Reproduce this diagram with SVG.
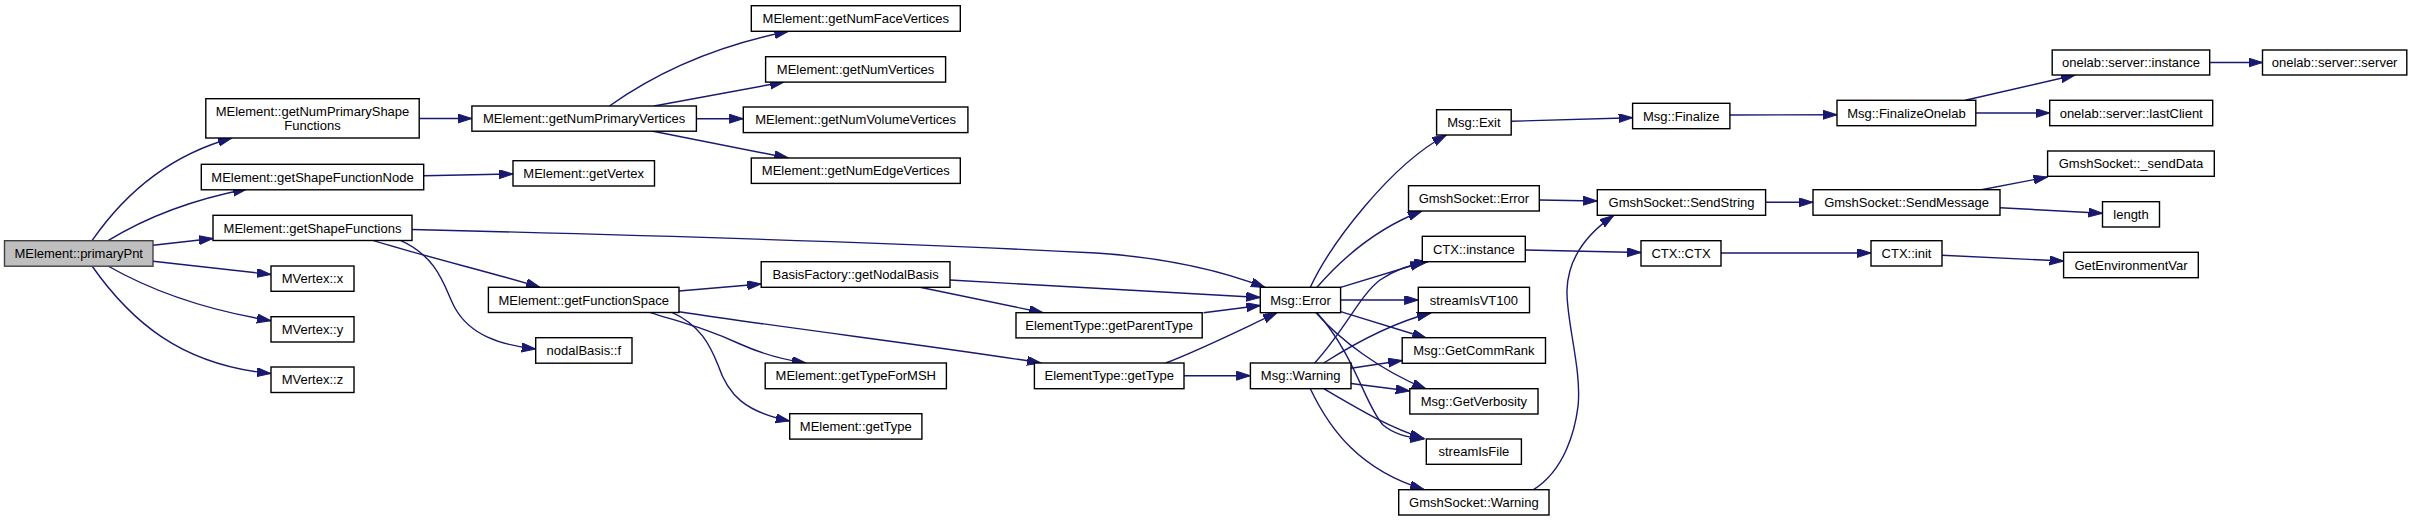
<svg xmlns="http://www.w3.org/2000/svg" width="2412" height="521" viewBox="0 0 2412 521">
<style>
.n rect{fill:#fff;stroke:#000;stroke-width:1.4}
.n.root rect{fill:#bfbfbf;stroke:#404040}
.n text{font-family:"Liberation Sans",Arial,Helvetica,sans-serif;font-size:13px;fill:#000;text-anchor:middle}
.e path{fill:none;stroke:#191970;stroke-width:1.4;marker-end:url(#arr)}
</style>
<defs>
<marker id="arr" markerUnits="userSpaceOnUse" markerWidth="15" markerHeight="10" refX="14" refY="4.5" orient="auto">
<path d="M0,0 L14,4.5 L0,9 z" fill="#191970" stroke="#191970" stroke-width="1"/>
</marker>
</defs>
<rect width="2412" height="521" fill="#fff"/>
<g id="edges" class="e">
<path d="M92,240.7 C125,193 170,155 232,138"/>
<path d="M108,240.7 C145,218 190,200 247,189"/>
<path d="M153,245.3 L213,238.5"/>
<path d="M153,261.3 L271,274.5"/>
<path d="M108,266 C150,290 200,309 271,320.7"/>
<path d="M92,266 C130,320 180,365 271,373.5"/>
<path d="M419.2,118.5 L471.9,118.5"/>
<path d="M423.7,175.7 L513,174"/>
<path d="M412,229.5 C600,234 900,243 1096,253 C1170,258 1225,272 1265,287.5"/>
<path d="M372.8,240.3 C430,258 490,272 540,287.3"/>
<path d="M400.4,240.3 C440,258 445,290 455,308 C470,335 500,345 535.7,349"/>
<path d="M679,291 L761.2,284"/>
<path d="M649.6,312.3 C690,325 710,330 740,344 C760,353 785,360 806,363"/>
<path d="M672,312.3 C700,325 710,345 718,365 C728,395 745,412 789.7,421"/>
<path d="M679,311.7 C800,330 950,348 1041,363"/>
<path d="M950,280 L1260.3,297.5"/>
<path d="M920,287.3 L1043,312.7"/>
<path d="M1203.6,312.7 L1260.3,305.5"/>
<path d="M1165.6,363 C1200,350 1240,330 1277,312.7"/>
<path d="M1184,375.7 L1250.4,375.7"/>
<path d="M1310.3,287.3 C1330,245 1390,165 1446.4,135"/>
<path d="M1317,287.3 C1345,255 1380,227 1421.9,211"/>
<path d="M1340.6,287.3 L1424,262"/>
<path d="M1340.6,300 L1418.3,300"/>
<path d="M1340.6,311.7 L1426.3,338"/>
<path d="M1316,312.7 C1340,340 1380,370 1426,389"/>
<path d="M1317,312.7 C1355,355 1365,405 1383,425 C1395,435 1410,438 1424,439"/>
<path d="M1314.7,363 C1345,330 1360,295 1380,280 C1395,270 1410,264 1428,261.7"/>
<path d="M1323.7,363 C1360,340 1395,322 1431,313"/>
<path d="M1351,368.3 L1402.2,360.5"/>
<path d="M1351,383.5 L1409.8,391"/>
<path d="M1323.7,388.7 C1360,410 1390,428 1424,438.5"/>
<path d="M1310.3,388.7 C1330,430 1360,470 1424,489.5"/>
<path d="M1533.5,489.7 C1565,470 1575,430 1578,406.7 C1582,370 1566,320 1567,290 C1568,260 1585,235 1613.8,215.3"/>
<path d="M1539.3,200 L1597.3,201"/>
<path d="M1525.4,250 L1641,252.5"/>
<path d="M1721,253 L1871,253"/>
<path d="M1942,255.3 L2063.6,261"/>
<path d="M1511.2,121.3 L1632.6,117.7"/>
<path d="M1729.9,115 L1837,114.7"/>
<path d="M1965.3,100.3 L2075,75"/>
<path d="M1975.8,113 L2049.7,113"/>
<path d="M2209.7,62.5 L2262.5,62.5"/>
<path d="M1765.6,202.3 L1812.9,202.3"/>
<path d="M1981.3,189.7 L2047.6,177"/>
<path d="M1999.9,207.7 L2102.5,213.3"/>
<path d="M609.4,106 C660,70 720,45 788.4,31.3"/>
<path d="M654,106 L784,82"/>
<path d="M696.4,118.7 L743.3,118.7"/>
<path d="M651.8,131 L788.4,158"/>
</g>
<g id="primaryPnt" class="n root"><rect x="4.5" y="240.7" width="148.5" height="25.5"/><text x="78.7" y="258">MElement::primaryPnt</text></g>
<g id="getNumPrimaryShapeFunctions" class="n"><rect x="205.8" y="98.7" width="213.4" height="39.3"/><text x="312.5" y="115.5">MElement::getNumPrimaryShape</text><text x="312.5" y="129.5">Functions</text></g>
<g id="getShapeFunctionNode" class="n"><rect x="201.3" y="164.3" width="222.4" height="25.5"/><text x="312.5" y="181.6">MElement::getShapeFunctionNode</text></g>
<g id="getShapeFunctions" class="n"><rect x="213" y="215.3" width="199" height="25.2"/><text x="312.5" y="232.5">MElement::getShapeFunctions</text></g>
<g id="MVertex_x" class="n"><rect x="271" y="266" width="83" height="25.3"/><text x="312.5" y="283.2">MVertex::x</text></g>
<g id="MVertex_y" class="n"><rect x="271" y="316.7" width="83" height="25.3"/><text x="312.5" y="333.9">MVertex::y</text></g>
<g id="MVertex_z" class="n"><rect x="271" y="367" width="83" height="25.5"/><text x="312.5" y="384.3">MVertex::z</text></g>
<g id="getNumPrimaryVertices" class="n"><rect x="471.9" y="106" width="224.5" height="25.2"/><text x="584.1" y="123.2">MElement::getNumPrimaryVertices</text></g>
<g id="getVertex" class="n"><rect x="513" y="160.7" width="141.5" height="25.3"/><text x="583.7" y="177.9">MElement::getVertex</text></g>
<g id="getFunctionSpace" class="n"><rect x="488.4" y="287.3" width="190.6" height="25.2"/><text x="583.7" y="304.5">MElement::getFunctionSpace</text></g>
<g id="nodalBasis_f" class="n"><rect x="535.7" y="337.7" width="96.3" height="25.5"/><text x="583.8" y="355">nodalBasis::f</text></g>
<g id="getNumFaceVertices" class="n"><rect x="751.3" y="5.7" width="209" height="25.6"/><text x="855.8" y="23">MElement::getNumFaceVertices</text></g>
<g id="getNumVertices" class="n"><rect x="765.6" y="56.7" width="180" height="25.4"/><text x="855.6" y="73.9">MElement::getNumVertices</text></g>
<g id="getNumVolumeVertices" class="n"><rect x="743.3" y="107" width="224.6" height="25.6"/><text x="855.6" y="124.3">MElement::getNumVolumeVertices</text></g>
<g id="getNumEdgeVertices" class="n"><rect x="751.3" y="158" width="209" height="25.4"/><text x="855.8" y="175.2">MElement::getNumEdgeVertices</text></g>
<g id="getNodalBasis" class="n"><rect x="761.2" y="261.7" width="188.8" height="25.6"/><text x="855.6" y="279">BasisFactory::getNodalBasis</text></g>
<g id="getTypeForMSH" class="n"><rect x="765.2" y="363" width="181.2" height="25.7"/><text x="855.8" y="380.4">MElement::getTypeForMSH</text></g>
<g id="MElement_getType" class="n"><rect x="789.7" y="413.7" width="132.2" height="25.4"/><text x="855.8" y="430.9">MElement::getType</text></g>
<g id="getParentType" class="n"><rect x="1016" y="312.7" width="186.2" height="25.2"/><text x="1109.1" y="329.9">ElementType::getParentType</text></g>
<g id="ElementType_getType" class="n"><rect x="1034.4" y="363" width="149.6" height="25.7"/><text x="1109.2" y="380.4">ElementType::getType</text></g>
<g id="Msg_Error" class="n"><rect x="1260.3" y="287.3" width="80.3" height="25.4"/><text x="1300.5" y="304.5">Msg::Error</text></g>
<g id="Msg_Warning" class="n"><rect x="1250.4" y="363" width="100.6" height="25.7"/><text x="1300.7" y="380.4">Msg::Warning</text></g>
<g id="Msg_Exit" class="n"><rect x="1436.6" y="109.7" width="74.6" height="25.3"/><text x="1473.9" y="126.9">Msg::Exit</text></g>
<g id="GmshSocket_Error" class="n"><rect x="1408.5" y="185.7" width="130.8" height="25.3"/><text x="1473.9" y="202.9">GmshSocket::Error</text></g>
<g id="CTX_instance" class="n"><rect x="1422.3" y="236.3" width="103" height="25.4"/><text x="1473.8" y="253.5">CTX::instance</text></g>
<g id="streamIsVT100" class="n"><rect x="1418.3" y="287.3" width="111.2" height="25.4"/><text x="1473.9" y="304.5">streamIsVT100</text></g>
<g id="GetCommRank" class="n"><rect x="1402.2" y="337.7" width="143.3" height="25.6"/><text x="1473.9" y="355">Msg::GetCommRank</text></g>
<g id="GetVerbosity" class="n"><rect x="1409.8" y="388.7" width="128.2" height="25.3"/><text x="1473.9" y="405.9">Msg::GetVerbosity</text></g>
<g id="streamIsFile" class="n"><rect x="1426.3" y="439" width="95.1" height="25.3"/><text x="1473.9" y="456.2">streamIsFile</text></g>
<g id="GmshSocket_Warning" class="n"><rect x="1398.7" y="489.7" width="150.3" height="25.3"/><text x="1473.9" y="506.9">GmshSocket::Warning</text></g>
<g id="Msg_Finalize" class="n"><rect x="1632.6" y="103.3" width="97.3" height="25.4"/><text x="1681.3" y="120.5">Msg::Finalize</text></g>
<g id="SendString" class="n"><rect x="1597.3" y="189.7" width="168.3" height="25.6"/><text x="1681.5" y="207">GmshSocket::SendString</text></g>
<g id="CTX_CTX" class="n"><rect x="1641" y="240.7" width="80" height="25.3"/><text x="1681" y="257.9">CTX::CTX</text></g>
<g id="FinalizeOnelab" class="n"><rect x="1837" y="100.3" width="138.8" height="25.4"/><text x="1906.4" y="117.5">Msg::FinalizeOnelab</text></g>
<g id="SendMessage" class="n"><rect x="1813" y="189.7" width="187" height="25.5"/><text x="1906.5" y="207">GmshSocket::SendMessage</text></g>
<g id="CTX_init" class="n"><rect x="1871" y="240.7" width="71" height="25.3"/><text x="1906.5" y="257.9">CTX::init</text></g>
<g id="server_instance" class="n"><rect x="2052.2" y="50" width="157.5" height="25"/><text x="2131" y="67">onelab::server::instance</text></g>
<g id="lastClient" class="n"><rect x="2049.7" y="100.3" width="163" height="25.4"/><text x="2131.2" y="117.5">onelab::server::lastClient</text></g>
<g id="sendData" class="n"><rect x="2047.6" y="151" width="166.7" height="25.3"/><text x="2131" y="168.2">GmshSocket::_sendData</text></g>
<g id="length" class="n"><rect x="2102.5" y="201.7" width="57" height="25.3"/><text x="2131" y="218.9">length</text></g>
<g id="GetEnvironmentVar" class="n"><rect x="2063.6" y="252.3" width="134.7" height="25.4"/><text x="2131" y="269.5">GetEnvironmentVar</text></g>
<g id="server_server" class="n"><rect x="2262.5" y="50" width="144.3" height="25"/><text x="2334.6" y="67">onelab::server::server</text></g>
</svg>
